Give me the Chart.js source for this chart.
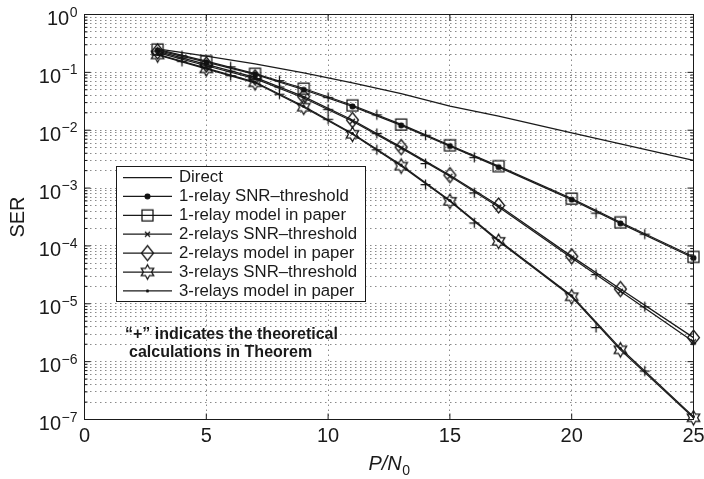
<!DOCTYPE html>
<html>
<head>
<meta charset="utf-8">
<script src="https://cdn.jsdelivr.net/npm/chart.js@4.4.0/dist/chart.umd.min.js"></script>
<style>
  html, body { margin: 0; padding: 0; background: #fff; }
</style>
</head>
<body>
<canvas id="grafico" width="704" height="479"></canvas>
<script>
// Puntos medidos (SNR en dB)
const snr = [3, 5, 7, 9, 11, 13, 15, 17, 20, 22, 25];
// Puntos de la teoria ("+")
const snrTeoria = [4, 6, 8, 10, 12, 14, 16, 21, 23];

const directo = [0.255, 0.19, 0.14, 0.098, 0.066, 0.043, 0.026, 0.0175, 0.009, 0.0058, 0.003];

const rele1Umbral = [0.24, 0.15, 0.092, 0.05, 0.0258, 0.0121, 0.0053, 0.0023, 6.3e-4, 2.45e-4, 6.2e-5];
const rele1Modelo = [0.25, 0.156, 0.095, 0.0526, 0.027, 0.0126, 0.0055, 0.0024, 6.6e-4, 2.57e-4, 6.5e-5];
const rele1Teoria = [0.195, 0.125, 0.072, 0.037, 0.0185, 0.0082, 0.0034, 3.7e-4, 1.6e-4];

const rele2Umbral = [0.22, 0.13, 0.078, 0.036, 0.0143, 0.0049, 0.0016, 4.7e-4, 6.2e-5, 1.65e-5, 2.2e-6];
const rele2Modelo = [0.23, 0.137, 0.082, 0.038, 0.015, 0.0051, 0.00167, 5.0e-4, 6.6e-5, 1.8e-5, 2.6e-6];
const rele2Teoria = [0.178, 0.105, 0.056, 0.023, 0.0088, 0.00266, 8.3e-4, 3.2e-5, 8.9e-6];

const rele3Umbral = [0.20, 0.115, 0.066, 0.025, 0.0085, 0.0024, 5.9e-4, 1.2e-4, 1.32e-5, 1.6e-6, 1.07e-7];
const rele3Modelo = [0.205, 0.118, 0.068, 0.026, 0.0088, 0.0025, 6.1e-4, 1.25e-4, 1.38e-5, 1.7e-6, 1.12e-7];
const rele3Teoria = [0.155, 0.088, 0.042, 0.0155, 0.0046, 0.00115, 2.5e-4, 3.9e-6, 6.9e-7];

const xTicks = [0, 5, 10, 15, 20, 25];
const yExpo = [0, -1, -2, -3, -4, -5, -6, -7];

const nombres = [
  'Direct',
  '1-relay SNR\u2013threshold',
  '1-relay model in paper',
  '2-relays SNR\u2013threshold',
  '2-relays model in paper',
  '3-relays SNR\u2013threshold',
  '3-relays model in paper'
];

const tinta = '#1a1a1a';

// Marcadores estilo MATLAB dibujados en un canvas pequeño
function marcador(tipo) {
  const c = document.createElement('canvas');
  const s = 19;
  c.width = s; c.height = s;
  const g = c.getContext('2d');
  const m = s / 2;
  g.strokeStyle = '#111';
  g.fillStyle = '#111';
  g.lineWidth = 1.25;
  g.beginPath();
  if (tipo === 'cuadrado') {
    g.rect(m - 5.5, m - 5.5, 11, 11);
  } else if (tipo === 'rombo') {
    g.moveTo(m, m - 7.5); g.lineTo(m + 6, m); g.lineTo(m, m + 7.5); g.lineTo(m - 6, m); g.closePath();
  } else if (tipo === 'estrella') {
    for (let i = 0; i < 12; i++) {
      const ang = (-90 + i * 30) * Math.PI / 180;
      const r = i % 2 ? 4.1 : 7.2;
      const px = m + r * Math.cos(ang), py = m + r * Math.sin(ang);
      if (i === 0) g.moveTo(px, py); else g.lineTo(px, py);
    }
    g.closePath();
  } else if (tipo === 'punto') {
    g.arc(m, m, 2.4, 0, 2 * Math.PI);
    g.fill();
  } else if (tipo === 'cruz') {
    g.moveTo(m - 2.5, m - 2.5); g.lineTo(m + 2.5, m + 2.5);
    g.moveTo(m + 2.5, m - 2.5); g.lineTo(m - 2.5, m + 2.5);
  } else if (tipo === 'mas') {
    g.moveTo(m - 5, m); g.lineTo(m + 5, m);
    g.moveTo(m, m - 5); g.lineTo(m, m + 5);
  } else if (tipo === 'pixel') {
    g.arc(m, m, 0.9, 0, 2 * Math.PI);
    g.fill();
  }
  g.stroke();
  return c;
}

const mk = {
  cuadrado: marcador('cuadrado'),
  rombo: marcador('rombo'),
  estrella: marcador('estrella'),
  punto: marcador('punto'),
  cruz: marcador('cruz'),
  mas: marcador('mas'),
  pixel: marcador('pixel')
};

function puntos(xs, ys) {
  return xs.map((x, i) => ({ x: x, y: ys[i] }));
}

function serie(label, ys, estilo) {
  return {
    label: label,
    data: puntos(snr, ys),
    borderColor: tinta,
    borderWidth: 1.25,
    pointStyle: estilo || false,
    pointRadius: estilo ? 3 : 0,
    fill: false,
    tension: 0,
    clip: false
  };
}

function teoria(ys) {
  return {
    label: 'teoria',
    data: puntos(snrTeoria, ys),
    showLine: false,
    borderColor: tinta,
    pointStyle: mk.mas,
    pointRadius: 3,
    clip: false
  };
}

const datasets = [
  serie(nombres[0], directo, null),
  serie(nombres[1], rele1Umbral, mk.punto),
  serie(nombres[2], rele1Modelo, mk.cuadrado),
  serie(nombres[3], rele2Umbral, mk.cruz),
  serie(nombres[4], rele2Modelo, mk.rombo),
  serie(nombres[5], rele3Umbral, mk.estrella),
  serie(nombres[6], rele3Modelo, mk.pixel),
  teoria(rele1Teoria),
  teoria(rele2Teoria),
  teoria(rele3Teoria)
];

const fuente = '"Liberation Sans", Arial, sans-serif';

const dibujo = {
  id: 'dibujo',
  afterDatasetsDraw(chart) {
    const ctx = chart.ctx;
    const a = chart.chartArea;
    const x = chart.scales.x, y = chart.scales.y;
    ctx.save();

    // caja de ejes
    ctx.strokeStyle = tinta;
    ctx.lineWidth = 1;
    ctx.strokeRect(a.left, a.top, a.right - a.left, a.bottom - a.top);

    // marcas hacia dentro
    ctx.beginPath();
    y.ticks.forEach(t => {
      const py = y.getPixelForValue(t.value);
      const L = t.major ? 6 : 3;
      ctx.moveTo(a.left, py); ctx.lineTo(a.left + L, py);
      ctx.moveTo(a.right, py); ctx.lineTo(a.right - L, py);
    });
    x.ticks.forEach(t => {
      const px = x.getPixelForValue(t.value);
      ctx.moveTo(px, a.bottom); ctx.lineTo(px, a.bottom - 6);
      ctx.moveTo(px, a.top); ctx.lineTo(px, a.top + 6);
    });
    ctx.stroke();

    // etiquetas eje y: 10^n
    ctx.fillStyle = tinta;
    ctx.textBaseline = 'alphabetic';
    yExpo.forEach(e => {
      const py = y.getPixelForValue(Math.pow(10, e));
      const sup = e === 0 ? '0' : '\u2212' + Math.abs(e);
      ctx.font = '14px ' + fuente;
      const w2 = ctx.measureText(sup).width;
      ctx.textAlign = 'right';
      ctx.fillText(sup, 77.5, py + 2);
      ctx.font = '20px ' + fuente;
      ctx.fillText('10', 77.5 - w2 - 0.5, py + 10.5);
    });

    // etiquetas eje x
    ctx.font = '20px ' + fuente;
    ctx.textAlign = 'center';
    xTicks.forEach(v => {
      ctx.fillText(String(v), x.getPixelForValue(v), 442);
    });

    // titulo eje x: P/N0
    const cx = (a.left + a.right) / 2;
    ctx.font = 'italic 20px ' + fuente;
    const w1 = ctx.measureText('P/N').width;
    ctx.font = '14px ' + fuente;
    const w0 = ctx.measureText('0').width;
    const x0 = cx - (w1 + w0) / 2;
    ctx.textAlign = 'left';
    ctx.font = 'italic 20px ' + fuente;
    ctx.fillText('P/N', x0, 470);
    ctx.font = '14px ' + fuente;
    ctx.fillText('0', x0 + w1 + 0.5, 475);

    // titulo eje y
    ctx.save();
    ctx.translate(24, (a.top + a.bottom) / 2);
    ctx.rotate(-Math.PI / 2);
    ctx.textAlign = 'center';
    ctx.font = '20px ' + fuente;
    ctx.fillText('SER', 0, 0);
    ctx.restore();

    // leyenda
    const lx = 116.5, ly = 166.5, lw = 249, lh = 135;
    ctx.fillStyle = '#fff';
    ctx.fillRect(lx, ly, lw, lh);
    ctx.strokeStyle = tinta;
    ctx.strokeRect(lx, ly, lw, lh);
    ctx.font = '16.8px ' + fuente;
    ctx.textAlign = 'left';
    ctx.textBaseline = 'middle';
    ctx.lineWidth = 1.25;
    for (let i = 0; i < nombres.length; i++) {
      const ds = chart.data.datasets[i];
      const ry = 177.5 + i * 18.9;
      ctx.beginPath();
      ctx.moveTo(123, ry); ctx.lineTo(172, ry);
      ctx.stroke();
      if (ds.pointStyle) {
        const im = ds.pointStyle;
        ctx.drawImage(im, 147.5 - im.width / 2, ry - im.height / 2);
      }
      ctx.fillStyle = tinta;
      ctx.fillText(nombres[i], 179, ry);
    }

    // nota
    ctx.font = 'bold 16px ' + fuente;
    ctx.textBaseline = 'alphabetic';
    ctx.fillText('\u201C+\u201D indicates the theoretical', 125, 339);
    ctx.fillText('calculations in Theorem', 129, 357);

    ctx.restore();
  }
};

const ctx = document.getElementById('grafico').getContext('2d');

window.miGrafico = new Chart(ctx, {
  type: 'line',
  data: { datasets: datasets },
  options: {
    responsive: false,
    animation: false,
    events: [],
    layout: { padding: { left: 0, right: 10.5, top: 14.5, bottom: 0 } },
    plugins: { legend: { display: false }, tooltip: { enabled: false } },
    scales: {
      x: {
        type: 'linear',
        min: 0,
        max: 25,
        ticks: { display: false },
        afterBuildTicks: s => { s.ticks = xTicks.map(v => ({ value: v })); },
        afterFit: s => { s.height = 59.5; },
        grid: { color: '#8a8a8a', lineWidth: 1, drawTicks: false },
        border: { display: false, dash: [1.5, 3.5] }
      },
      y: {
        type: 'logarithmic',
        min: 1e-7,
        max: 1,
        ticks: { display: false },
        afterBuildTicks: s => {
          const t = [];
          yExpo.slice().reverse().forEach(e => {
            for (let k = 1; k <= 9; k++) {
              if (e === 0 && k > 1) break;
              t.push({ value: k * Math.pow(10, e), major: k === 1 });
            }
          });
          s.ticks = t;
        },
        afterFit: s => { s.width = 84.5; },
        grid: { color: '#8a8a8a', lineWidth: 1, drawTicks: false },
        border: { display: false, dash: [1.5, 3.5] }
      }
    }
  },
  plugins: [dibujo]
});
</script>
</body>
</html>
